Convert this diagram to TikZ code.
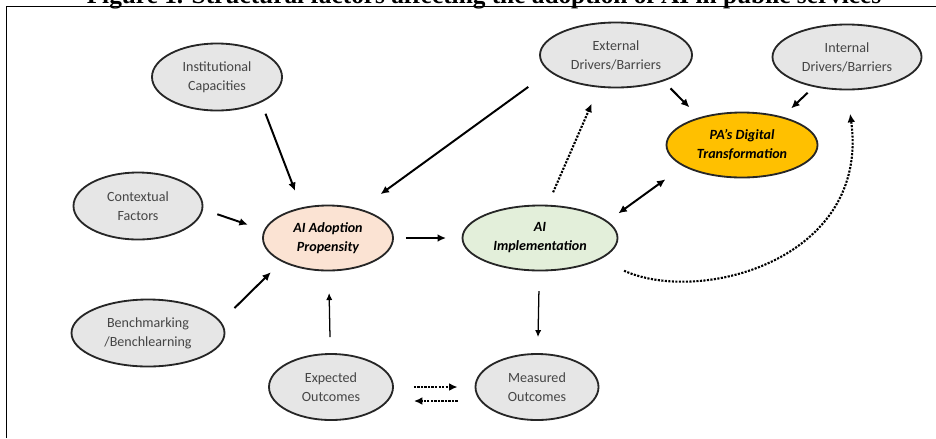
\documentclass[tikz,border=0pt]{standalone}
\usepackage{fontspec}
\setmainfont{Carlito}
\newfontfamily\titlefont{Liberation Serif}
\usetikzlibrary{shapes.geometric}
\usetikzlibrary{arrows.meta}
\definecolor{factorfill}{HTML}{E6E6E6}
\definecolor{factortext}{HTML}{454545}
\definecolor{adoptfill}{HTML}{FBE3D3}
\definecolor{implfill}{HTML}{E3EFDA}
\definecolor{pafill}{HTML}{FFC000}
\tikzset{
  every picture/.style={
    >={Latex[width=5.5pt, length=6pt]}
  },
  factor/.style={
    ellipse, draw=black!85, line width=1.3pt, fill=factorfill,
    text=factortext, align=center, inner sep=0pt,
    font=\fontsize{10}{13.5}\selectfont
  },
  core/.style={
    factor, text=black,
    font=\fontsize{10}{13.5}\selectfont\bfseries\itshape
  },
  link/.style={->, line width=1.4pt},
  thin link/.style={->, line width=0.9pt, >={Latex[width=4.5pt, length=5pt]}},
  dotted link/.style={->, line width=1.5pt, dash pattern=on 1.5pt off 1pt}
}
\begin{document}
\begin{tikzpicture}[x=0.25mm, y=-0.25mm]
      \useasboundingbox (0,0) rectangle (936,438);
      \node[anchor=base, font=\titlefont\bfseries\fontsize{18}{20}\selectfont] (title) at (484,3) {Figure 1. Structural factors affecting the adoption of AI in public services};
      \draw[line width=1.2pt] (6.5,438) -- (6.5,6.5) -- (936,6.5);
      \node[factor, minimum width=32.5mm, minimum height=16.75mm] (inst) at (217,77) {Institutional\\Capacities};
      \node[factor, minimum width=32.25mm, minimum height=16.75mm] (ctx) at (138,206) {Contextual\\Factors};
      \node[factor, minimum width=38.25mm, minimum height=16.75mm] (bench) at (148,333) {Benchmarking\\/Benchlearning};
      \node[factor, minimum width=38mm, minimum height=16.25mm] (ext) at (616,55) {External\\Drivers/Barriers};
      \node[factor, minimum width=37.25mm, minimum height=16.25mm] (int) at (847,57) {Internal\\Drivers/Barriers};
      \node[factor, minimum width=31mm, minimum height=16.5mm] (exp) at (331,387) {Expected\\Outcomes};
      \node[factor, minimum width=30.75mm, minimum height=16.5mm] (meas) at (537,387) {Measured\\Outcomes};
      \node[core, fill=adoptfill, minimum width=32.5mm, minimum height=16.25mm] (adopt) at (328,238) {AI Adoption\\Propensity};
      \node[core, fill=implfill, minimum width=38.75mm, minimum height=16.25mm] (impl) at (540,238) {AI\\Implementation};
      \node[core, fill=pafill, minimum width=37.75mm, minimum height=16.25mm] (pa) at (742,145) {PA's Digital\\Transformation};
      \draw[link, shorten <=3mm, shorten >=4.4mm] (inst.-30) -- (adopt.131);
      \draw[link, shorten <=3.75mm, shorten >=4.25mm] (ctx.-3) -- (adopt.173);
      \draw[link, shorten <=4.75mm, shorten >=3.75mm] (bench.9) -- (adopt.-153);
      \draw[link, shorten <=6.5mm, shorten >=6.25mm] (ext.194) -- (adopt.42);
      \draw[link, shorten <=3mm, shorten >=3.9mm] (adopt) -- (impl);
      \draw[thin link, shorten <=4mm, shorten >=5.4mm] (exp) -- (adopt);
      \draw[thin link, shorten <=4.9mm, shorten >=4mm] (impl) -- (meas);
      \draw[dotted link, shorten <=5mm, shorten >=4.25mm] (exp.east) -- (meas.west);
      \draw[dotted link, shorten <=4.25mm, shorten >=5mm] ([yshift=-3.5mm]meas.west) -- ([yshift=-3.5mm]exp.east);
      \draw[dotted link, shorten <=3.4mm, shorten >=4.4mm] (impl.77) -- (ext.-118);
      \draw[link, shorten <=2.5mm, shorten >=3.5mm] (ext.-29) -- (pa.147);
      \draw[link, shorten <=2.1mm, shorten >=3mm] (int.-138) -- (pa.35);
      \draw[link, <->, shorten <=3.3mm, shorten >=5.5mm] (impl.14) -- (pa.200);
      \draw[dotted link, shorten <=6.7mm, shorten >=5.9mm] (impl.-20) .. controls (700,305) and (870,260) .. (int.south);
    \end{tikzpicture}
\end{document}
